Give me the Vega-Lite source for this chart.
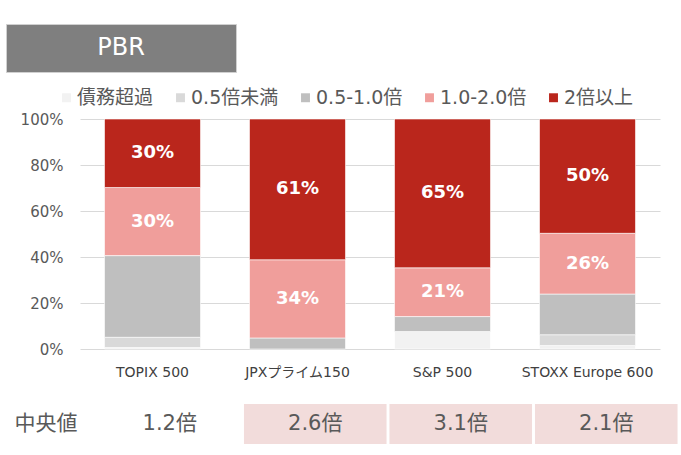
{
  "$schema": "https://vega.github.io/schema/vega-lite/v6.json",
  "background": "white",
  "padding": {"left": 5, "top": 23, "right": 0, "bottom": 0},
  "config": {
    "font": "DejaVu Sans, Noto Sans CJK JP",
    "view": {"stroke": null}
  },
  "spacing": 15,
  "resolve": {"scale": {"x": "independent", "y": "independent", "color": "independent"}, "legend": {"color": "independent"}},
  "datasets": {
    "shares": [
      {"index": "TOPIX 500", "cat": "債務超過", "k": 1, "share": 0.006},
      {"index": "TOPIX 500", "cat": "0.5倍未満", "k": 2, "share": 0.045},
      {"index": "TOPIX 500", "cat": "0.5-1.0倍", "k": 3, "share": 0.355},
      {"index": "TOPIX 500", "cat": "1.0-2.0倍", "k": 4, "share": 0.296},
      {"index": "TOPIX 500", "cat": "2倍以上", "k": 5, "share": 0.298},
      {"index": "JPXプライム150", "cat": "0.5-1.0倍", "k": 3, "share": 0.048},
      {"index": "JPXプライム150", "cat": "1.0-2.0倍", "k": 4, "share": 0.340},
      {"index": "JPXプライム150", "cat": "2倍以上", "k": 5, "share": 0.612},
      {"index": "S&P 500", "cat": "債務超過", "k": 1, "share": 0.076},
      {"index": "S&P 500", "cat": "0.5-1.0倍", "k": 3, "share": 0.065},
      {"index": "S&P 500", "cat": "1.0-2.0倍", "k": 4, "share": 0.212},
      {"index": "S&P 500", "cat": "2倍以上", "k": 5, "share": 0.647},
      {"index": "STOXX Europe 600", "cat": "債務超過", "k": 1, "share": 0.015},
      {"index": "STOXX Europe 600", "cat": "0.5倍未満", "k": 2, "share": 0.047},
      {"index": "STOXX Europe 600", "cat": "0.5-1.0倍", "k": 3, "share": 0.177},
      {"index": "STOXX Europe 600", "cat": "1.0-2.0倍", "k": 4, "share": 0.264},
      {"index": "STOXX Europe 600", "cat": "2倍以上", "k": 5, "share": 0.497}
    ],
    "medians": [
      {"index": "TOPIX 500", "median": 1.2},
      {"index": "JPXプライム150", "median": 2.6},
      {"index": "S&P 500", "median": 3.1},
      {"index": "STOXX Europe 600", "median": 2.1}
    ],
    "none": []
  },
  "vconcat": [
    {
      "width": 230,
      "height": 48,
      "view": {"fill": "#7f7f7f", "stroke": "#d0d0d0"},
      "data": {"values": [{"label": "PBR"}]},
      "mark": {"type": "text", "color": "white", "fontSize": 24},
      "encoding": {"text": {"field": "label"}}
    },
    {
      "spacing": 0,
      "resolve": {"scale": {"x": "independent", "y": "independent", "color": "independent"}, "legend": {"color": "independent"}},
      "hconcat": [
        {
          "width": 1,
          "height": 1,
          "data": {"name": "none"},
          "mark": {"type": "text"},
          "encoding": {}
        },
        {
          "width": 580,
          "height": 230,
          "data": {"name": "shares"},
          "transform": [
            {"stack": "share", "groupby": ["index"], "sort": [{"field": "k", "order": "ascending"}], "as": ["s0", "s1"]},
            {"calculate": "(datum.s0 + datum.s1) / 2", "as": "smid"}
          ],
          "encoding": {
            "x": {
              "field": "index",
              "type": "nominal",
              "sort": ["TOPIX 500", "JPXプライム150", "S&P 500", "STOXX Europe 600"],
              "scale": {"paddingInner": 0.338, "paddingOuter": 0.169},
              "axis": {"title": null, "domain": false, "ticks": false, "labelAngle": 0, "labelFontSize": 14, "labelColor": "#404040", "labelPadding": 16, "minExtent": 40, "maxExtent": 40}
            }
          },
          "layer": [
            {
              "mark": {"type": "bar", "stroke": "white", "strokeWidth": 0.6},
              "encoding": {
                "y": {
                  "field": "s0",
                  "type": "quantitative",
                  "scale": {"domain": [0, 1]},
                  "axis": {"title": null, "format": ".0%", "values": [0, 0.2, 0.4, 0.6, 0.8, 1], "domain": false, "ticks": false, "gridColor": "#d9d9d9", "labelFontSize": 15, "labelColor": "#595959", "labelPadding": 17, "minExtent": 73, "maxExtent": 73}
                },
                "y2": {"field": "s1"},
                "color": {
                  "field": "cat",
                  "type": "nominal",
                  "scale": {
                    "domain": ["債務超過", "0.5倍未満", "0.5-1.0倍", "1.0-2.0倍", "2倍以上"],
                    "range": ["#f2f2f2", "#d9d9d9", "#bfbfbf", "#f09e9b", "#ba261c"]
                  },
                  "legend": {
                    "title": null,
                    "orient": "none",
                    "direction": "horizontal",
                    "legendX": -23,
                    "legendY": -31,
                    "symbolType": "square",
                    "symbolSize": 80,
                    "symbolStrokeWidth": 0,
                    "labelFontSize": 19,
                    "labelColor": "#595959",
                    "labelOffset": 1,
                    "columnPadding": 17
                  }
                }
              }
            },
            {
              "transform": [{"filter": "datum.cat === '1.0-2.0倍' || datum.cat === '2倍以上'"}],
              "mark": {"type": "text", "color": "white", "fontSize": 18, "fontWeight": "bold"},
              "encoding": {
                "y": {"field": "smid", "type": "quantitative", "scale": {"domain": [0, 1]}},
                "text": {"field": "share", "format": ".0%"}
              }
            }
          ]
        }
      ]
    },
    {
      "spacing": 0,
      "hconcat": [
        {
          "width": 1,
          "height": 1,
          "data": {"name": "none"},
          "mark": {"type": "text"},
          "encoding": {}
        },
        {
          "width": 582,
          "height": 40,
          "data": {"name": "medians"},
          "transform": [{"calculate": "format(datum.median, '.1f') + '倍'", "as": "label"}],
          "encoding": {
            "x": {
              "field": "index",
              "type": "nominal",
              "sort": ["TOPIX 500", "JPXプライム150", "S&P 500", "STOXX Europe 600"],
              "scale": {"paddingInner": 0.02, "paddingOuter": 0.01},
              "axis": null
            },
            "y": {
              "datum": "中央値",
              "type": "nominal",
              "scale": {"paddingInner": 0, "paddingOuter": 0},
              "axis": {"title": null, "domain": false, "ticks": false, "grid": false, "labelFontSize": 21, "labelColor": "#595959", "labelPadding": 20, "minExtent": 90, "maxExtent": 90}
            }
          },
          "layer": [
            {
              "transform": [{"filter": "datum.index !== 'TOPIX 500'"}],
              "mark": {"type": "rect", "color": "#f2dcdb"}
            },
            {
              "mark": {"type": "text", "fontSize": 21, "color": "#595959"},
              "encoding": {"text": {"field": "label"}}
            }
          ]
        }
      ]
    }
  ]
}
